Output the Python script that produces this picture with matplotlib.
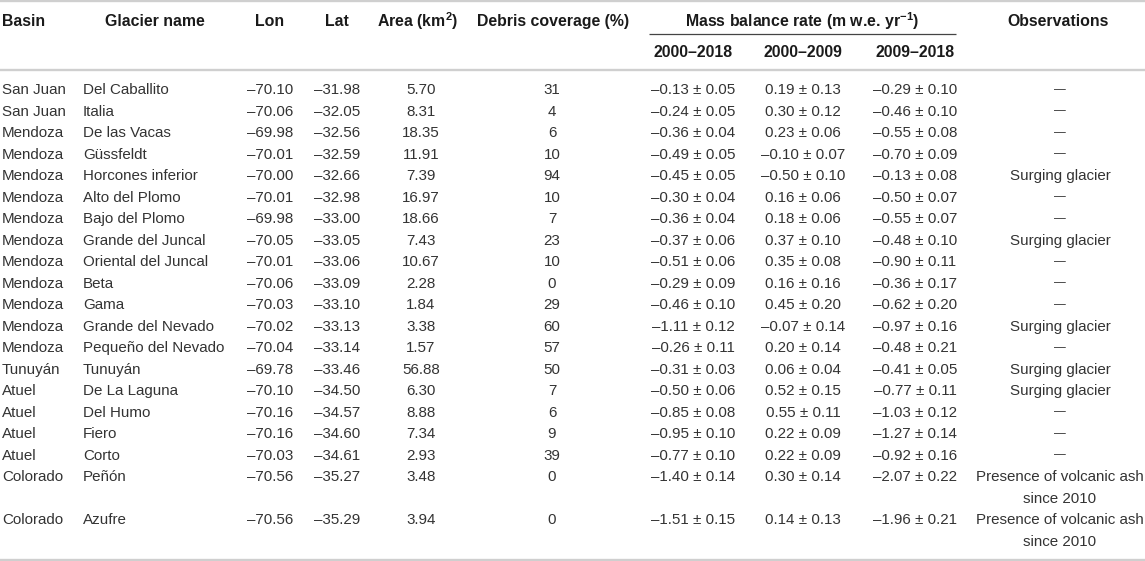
import matplotlib
matplotlib.use("Agg")
import matplotlib.pyplot as plt

plt.rcParams["mathtext.fontset"] = "custom"
plt.rcParams["mathtext.rm"] = "Liberation Sans"
plt.rcParams["mathtext.bf"] = "Liberation Sans:bold"
plt.rcParams["mathtext.it"] = "Liberation Sans:italic"

basins = ["San Juan", "San Juan", "Mendoza", "Mendoza", "Mendoza", "Mendoza", "Mendoza",
          "Mendoza", "Mendoza", "Mendoza", "Mendoza", "Mendoza", "Mendoza", "Tunuyán",
          "Atuel", "Atuel", "Atuel", "Atuel", "Colorado", "Colorado"]
glaciers = ["Del Caballito", "Italia", "De las Vacas", "Güssfeldt", "Horcones inferior",
            "Alto del Plomo", "Bajo del Plomo", "Grande del Juncal", "Oriental del Juncal",
            "Beta", "Gama", "Grande del Nevado", "Pequeño del Nevado", "Tunuyán",
            "De La Laguna", "Del Humo", "Fiero", "Corto", "Peñón", "Azufre"]
lon = [-70.10, -70.06, -69.98, -70.01, -70.00, -70.01, -69.98, -70.05, -70.01, -70.06,
       -70.03, -70.02, -70.04, -69.78, -70.10, -70.16, -70.16, -70.03, -70.56, -70.56]
lat = [-31.98, -32.05, -32.56, -32.59, -32.66, -32.98, -33.00, -33.05, -33.06, -33.09,
       -33.10, -33.13, -33.14, -33.46, -34.50, -34.57, -34.60, -34.61, -35.27, -35.29]
area = [5.70, 8.31, 18.35, 11.91, 7.39, 16.97, 18.66, 7.43, 10.67, 2.28,
        1.84, 3.38, 1.57, 56.88, 6.30, 8.88, 7.34, 2.93, 3.48, 3.94]
debris = [31, 4, 6, 10, 94, 10, 7, 23, 10, 0, 29, 60, 57, 50, 7, 6, 9, 39, 0, 0]
mb_2000_2018 = [-0.13, -0.24, -0.36, -0.49, -0.45, -0.30, -0.36, -0.37, -0.51, -0.29,
                -0.46, -1.11, -0.26, -0.31, -0.50, -0.85, -0.95, -0.77, -1.40, -1.51]
err_2000_2018 = [0.05, 0.05, 0.04, 0.05, 0.05, 0.04, 0.04, 0.06, 0.06, 0.09,
                 0.10, 0.12, 0.11, 0.03, 0.06, 0.08, 0.10, 0.10, 0.14, 0.15]
mb_2000_2009 = [0.19, 0.30, 0.23, -0.10, -0.50, 0.16, 0.18, 0.37, 0.35, 0.16,
                0.45, -0.07, 0.20, 0.06, 0.52, 0.55, 0.22, 0.22, 0.30, 0.14]
err_2000_2009 = [0.13, 0.12, 0.06, 0.07, 0.10, 0.06, 0.06, 0.10, 0.08, 0.16,
                 0.20, 0.14, 0.14, 0.04, 0.15, 0.11, 0.09, 0.09, 0.14, 0.13]
mb_2009_2018 = [-0.29, -0.46, -0.55, -0.70, -0.13, -0.50, -0.55, -0.48, -0.90, -0.36,
                -0.62, -0.97, -0.48, -0.41, -0.77, -1.03, -1.27, -0.92, -2.07, -1.96]
err_2009_2018 = [0.10, 0.10, 0.08, 0.09, 0.08, 0.07, 0.07, 0.10, 0.11, 0.17,
                 0.20, 0.16, 0.21, 0.05, 0.11, 0.12, 0.14, 0.16, 0.22, 0.21]
observations = ["—", "—", "—", "—", "Surging glacier", "—", "—", "Surging glacier", "—", "—",
                "—", "Surging glacier", "—", "Surging glacier", "Surging glacier", "—", "—", "—",
                "Presence of volcanic ash\nsince 2010", "Presence of volcanic ash\nsince 2010"]
period_labels = ["2000–2018", "2000–2009", "2009–2018"]

FONT = "Liberation Sans"
DATA_COLOR = "#333333"
HEAD_COLOR = "#1a1a1a"
LINE_COLOR = "#cfcfcf"
FS = 10.9
HFS = 11.4


def num(v, fmt="{:.2f}"):
    s = fmt.format(abs(v))
    return ("–" + s) if v < 0 else s


def pm(v, e):
    return f"{num(v)} ± {e:.2f}"


fig = plt.figure(figsize=(11.45, 5.61), dpi=100)
ax = fig.add_axes([0, 0, 1, 1])
ax.set_xlim(0, 1145)
ax.set_ylim(561, 0)
ax.axis("off")

# horizontal rules
ax.plot([0, 1145], [1, 1], color=LINE_COLOR, lw=1.7, solid_capstyle="butt")
ax.plot([0, 1145], [70, 70], color=LINE_COLOR, lw=1.7, solid_capstyle="butt")
ax.plot([0, 1145], [559.5, 559.5], color=LINE_COLOR, lw=1.7, solid_capstyle="butt")
ax.plot([649, 956], [33.5, 33.5], color="#444444", lw=0.9, solid_capstyle="butt")

hkw = dict(fontfamily=FONT, fontsize=HFS, fontweight="bold", color=HEAD_COLOR, va="center")
ax.text(2, 21, "Basin", ha="left", **hkw)
ax.text(155, 21, "Glacier name", ha="center", **hkw)
ax.text(270, 21, "Lon", ha="center", **hkw)
ax.text(337, 21, "Lat", ha="center", **hkw)
ax.text(418, 21, "Area (km$^{\\mathbf{2}}$)", ha="center", **hkw)
ax.text(553, 21, "Debris coverage (%)", ha="center", **hkw)
ax.text(802, 21, "Mass balance rate (m w.e. yr$^{\\mathbf{-1}}$)", ha="center", **hkw)
ax.text(1058, 21, "Observations", ha="center", **hkw)
mb_x = [693, 803, 915]
for x, lab in zip(mb_x, period_labels):
    ax.text(x, 52, lab, ha="center", **hkw)

dkw = dict(fontfamily=FONT, color=DATA_COLOR, va="center")
y0 = 90
dy = 21.5
line = 0
for i in range(len(basins)):
    y = y0 + line * dy
    ax.text(2, y, basins[i], ha="left", fontsize=FS, **dkw)
    ax.text(83, y, glaciers[i], ha="left", fontsize=FS, **dkw)
    ax.text(270, y, num(lon[i]), ha="center", fontsize=FS, **dkw)
    ax.text(337, y, num(lat[i]), ha="center", fontsize=FS, **dkw)
    ax.text(421, y, num(area[i]), ha="center", fontsize=FS, **dkw)
    ax.text(552, y, str(debris[i]), ha="center", fontsize=FS, **dkw)
    ax.text(mb_x[0], y, pm(mb_2000_2018[i], err_2000_2018[i]), ha="center", fontsize=FS, **dkw)
    ax.text(mb_x[1], y, pm(mb_2000_2009[i], err_2000_2009[i]), ha="center", fontsize=FS, **dkw)
    ax.text(mb_x[2], y, pm(mb_2009_2018[i], err_2009_2018[i]), ha="center", fontsize=FS, **dkw)
    obs_lines = observations[i].split("\n")
    for k, ol in enumerate(obs_lines):
        fs = FS * 0.78 if ol == "—" else FS
        ax.text(1060, y + k * dy, ol, ha="center", fontsize=fs, **dkw)
    line += len(obs_lines)

fig.savefig("out.png", dpi=100)
